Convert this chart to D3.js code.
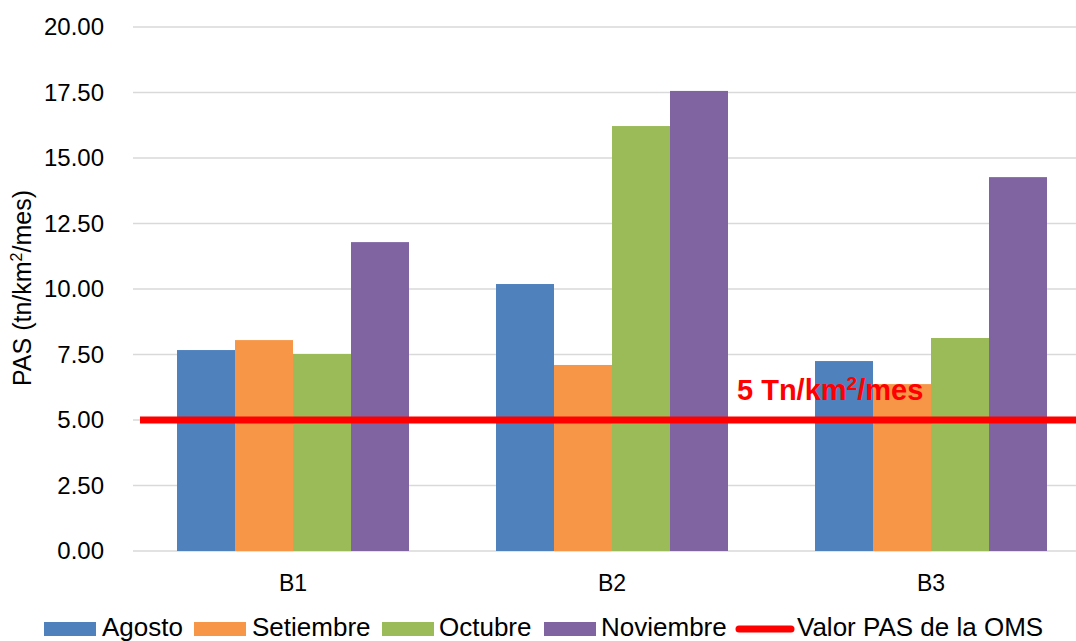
<!DOCTYPE html>
<html><head><meta charset="utf-8">
<script src="https://cdn.jsdelivr.net/npm/d3@7"></script>
<style>body{margin:0;background:#fff}svg{display:block}text{font-family:"Liberation Sans",Arial,sans-serif}</style>
</head><body><svg id="c" width="1076" height="641"></svg>
<script>
const categories = ["B1", "B2", "B3"];
const seriesNames = ["Agosto", "Setiembre", "Octubre", "Noviembre"];
const agosto = [7.67, 10.19, 7.25];
const setiembre = [8.05, 7.10, 6.37];
const octubre = [7.52, 16.22, 8.13];
const noviembre = [11.79, 17.56, 14.27];
const yTicks = [0, 2.5, 5, 7.5, 10, 12.5, 15, 17.5, 20];
const limitValue = 5;
const limitLabelParts = ["5 Tn/km", "2", "/mes"];
const limitName = "Valor PAS de la OMS";
const yTitleParts = ["PAS (tn/km", "2", "/mes)"];
const colors = ["#4F81BD", "#F79646", "#9BBB59", "#8064A2"];
const seriesValues = [agosto, setiembre, octubre, noviembre];

const svg = d3.select("#c");
const x0 = d3.scaleBand().domain(categories).range([133.5, 1090.5]).paddingInner(0).paddingOuter(0);
const y = d3.scaleLinear().domain([0, 20]).range([551, 27]);
const groupW = x0.bandwidth() * 232 / 319;
const x1 = d3.scaleBand().domain(seriesNames).range([0, groupW]).padding(0);

// gridlines
svg.append("g").selectAll("line").data(yTicks).join("line")
  .attr("x1", 133).attr("x2", 1076)
  .attr("y1", d => y(d)).attr("y2", d => y(d))
  .attr("stroke", "#D9D9D9").attr("stroke-width", 1.5);

// y axis labels
const yAxis = d3.axisLeft(y).tickValues(yTicks).tickFormat(d3.format(".2f")).tickSize(0).tickPadding(0);
const ga = svg.append("g").attr("transform", "translate(104,0)").call(yAxis);
ga.select(".domain").remove();
ga.selectAll("text").attr("font-size", 24).attr("fill", "#000").attr("font-family", "Liberation Sans, Arial, sans-serif");

// bars
const groups = svg.append("g").selectAll("g").data(categories).join("g")
  .attr("transform", c => `translate(${x0(c) + (x0.bandwidth() - groupW) / 2},0)`);
groups.selectAll("rect").data((c, i) => seriesNames.map((s, j) => ({s, j, v: seriesValues[j][i]}))).join("rect")
  .attr("x", d => x1(d.s)).attr("width", x1.bandwidth())
  .attr("y", d => y(d.v)).attr("height", d => y(0) - y(d.v))
  .attr("fill", d => colors[d.j]);

// x axis labels
const xAxis = d3.axisBottom(x0).tickSize(0).tickPadding(0);
const gx = svg.append("g").attr("transform", "translate(0,575)").call(xAxis);
gx.select(".domain").remove();
gx.selectAll("text").attr("font-size", 23).attr("fill", "#000").attr("font-family", "Liberation Sans, Arial, sans-serif");

// limit line
svg.append("line").attr("x1", 140).attr("x2", 1076)
  .attr("y1", y(limitValue)).attr("y2", y(limitValue))
  .attr("stroke", "#FF0000").attr("stroke-width", 7);
const lt = svg.append("text").attr("x", 737).attr("y", 400)
  .attr("font-size", 29).attr("font-weight", "bold").attr("fill", "#FF0000");
lt.append("tspan").text(limitLabelParts[0]);
lt.append("tspan").attr("font-size", 19).attr("dy", -10).text(limitLabelParts[1]);
lt.append("tspan").attr("dy", 10).text(limitLabelParts[2]);

// y title
const yt = svg.append("text").attr("transform", "translate(31,288) rotate(-90)")
  .attr("text-anchor", "middle").attr("font-size", 25).attr("fill", "#000");
yt.append("tspan").text(yTitleParts[0]);
yt.append("tspan").attr("font-size", 16).attr("dy", -9).text(yTitleParts[1]);
yt.append("tspan").attr("dy", 9).text(yTitleParts[2]);

// legend
const leg = svg.append("g");
const legItems = [
  {name: seriesNames[0], color: colors[0], x: 44, tx: 102},
  {name: seriesNames[1], color: colors[1], x: 194, tx: 252},
  {name: seriesNames[2], color: colors[2], x: 382, tx: 439},
  {name: seriesNames[3], color: colors[3], x: 544, tx: 601}
];
legItems.forEach(it => {
  leg.append("rect").attr("x", it.x).attr("y", 622).attr("width", 52).attr("height", 14).attr("fill", it.color);
  leg.append("text").attr("x", it.tx).attr("y", 636).attr("font-size", 26).attr("fill", "#000").text(it.name);
});
leg.append("line").attr("x1", 739).attr("x2", 791).attr("y1", 629).attr("y2", 629)
  .attr("stroke", "#FF0000").attr("stroke-width", 7).attr("stroke-linecap", "round");
leg.append("text").attr("x", 797).attr("y", 636).attr("font-size", 26).attr("fill", "#000").text(limitName);
</script></body></html>
